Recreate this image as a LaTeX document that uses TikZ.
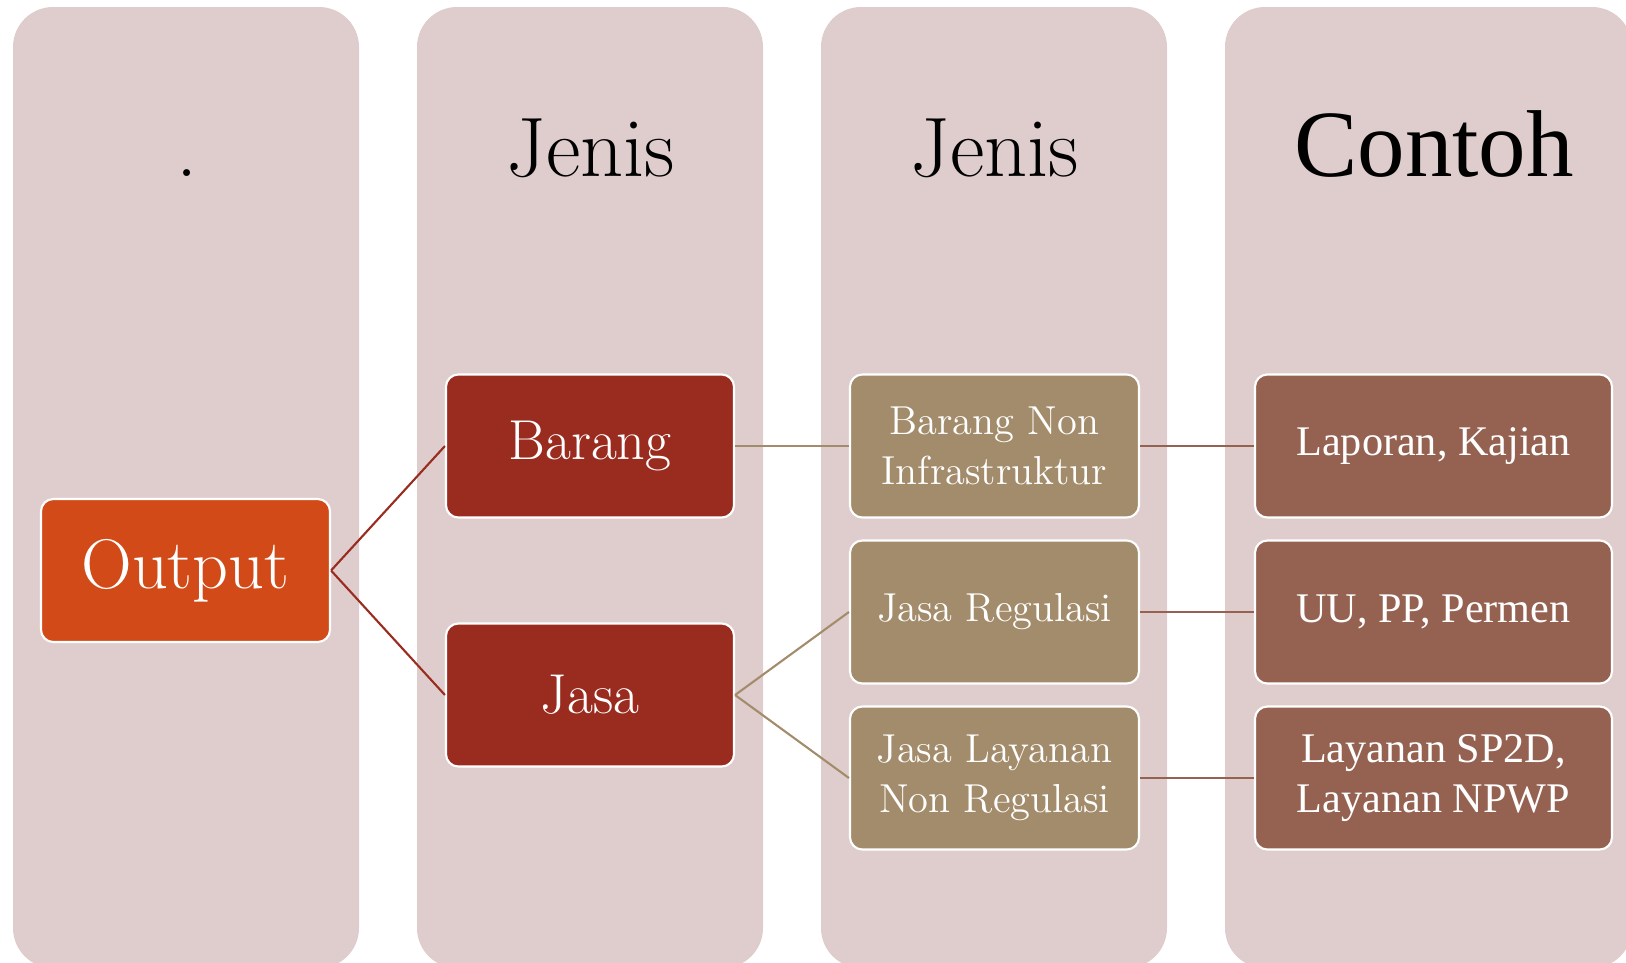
\documentclass[tikz,border=0pt]{standalone}
\usepackage{fontspec}
\newfontfamily\timesfont{Liberation Serif}
\usetikzlibrary{positioning}

\definecolor{fondcol}{RGB}{223,205,205}
\definecolor{orangeout}{RGB}{210,74,24}
\definecolor{rougejenis}{RGB}{153,43,31}
\definecolor{beigejenis}{RGB}{163,140,107}
\definecolor{brunexemple}{RGB}{149,98,82}

\tikzset{
  colonne/.style={fill=fondcol, rounded corners=40*0.01cm},
  boite/.style={draw=white, line width=0.6pt, rounded corners=3.5pt,
    text=white, align=center, inner sep=0pt},
  titre/.style={anchor=base, text=black},
  lien/.style={line width=0.6pt}
}

\begin{document}
\begin{tikzpicture}[x=0.01cm, y=-0.01cm]
  % Cadre de l'image
  \useasboundingbox (0,0) rectangle (1626,963);

  % Colonnes de fond
  \fill[colonne] (13,7) rectangle (359,968);
  \fill[colonne] (417,7) rectangle (763,968);
  \fill[colonne] (821,7) rectangle (1167,968);
  \fill[colonne] (1225,7) rectangle (1632,968);

  % Titres des colonnes
  \node[titre, font=\fontsize{24}{28}\selectfont] at (187,176) {.};
  \node[titre, font=\fontsize{24}{28}\selectfont] at (591,176) {Jenis};
  \node[titre, font=\fontsize{24}{28}\selectfont] at (995,176) {Jenis};
  \node[titre, font=\timesfont\fontsize{27}{30}\selectfont] at (1434,176) {Contoh};

  % Noeud racine
  \node[boite, fill=orangeout, minimum width=289*0.01cm, minimum height=143*0.01cm,
    font=\fontsize{20}{24}\selectfont] (output) at (185.5,570.5) {Output};

  % Deuxieme niveau : Barang et Jasa
  \node[boite, fill=rougejenis, minimum width=288*0.01cm, minimum height=143*0.01cm,
    font=\fontsize{16}{19}\selectfont] (barang) at (590,446) {Barang};
  \node[boite, fill=rougejenis, minimum width=288*0.01cm, minimum height=143*0.01cm,
    font=\fontsize{16}{19}\selectfont] (jasa) at (590,695) {Jasa};

  % Troisieme niveau
  \node[boite, fill=beigejenis, minimum width=289*0.01cm, minimum height=143*0.01cm,
    font=\fontsize{11.5}{14.2}\selectfont] (bni) at (994.5,446) {Barang Non\\Infrastruktur};
  \node[boite, fill=beigejenis, minimum width=289*0.01cm, minimum height=143*0.01cm,
    font=\fontsize{11.5}{14.2}\selectfont] (jreg) at (994.5,612) {Jasa Regulasi};
  \node[boite, fill=beigejenis, minimum width=289*0.01cm, minimum height=143*0.01cm,
    font=\fontsize{11.5}{14.2}\selectfont] (jlay) at (994.5,778) {Jasa Layanan\\Non Regulasi};

  % Exemples
  \node[boite, fill=brunexemple, minimum width=357*0.01cm, minimum height=143*0.01cm,
    font=\timesfont\fontsize{12}{14.2}\selectfont] (lap) at (1433.5,446) {Laporan, Kajian};
  \node[boite, fill=brunexemple, minimum width=357*0.01cm, minimum height=143*0.01cm,
    font=\timesfont\fontsize{12}{14.2}\selectfont] (uu) at (1433.5,612) {UU, PP, Permen};
  \node[boite, fill=brunexemple, minimum width=357*0.01cm, minimum height=143*0.01cm,
    font=\timesfont\fontsize{12}{14.2}\selectfont] (lsp) at (1433.5,778) {Layanan SP2D,\\Layanan NPWP};

  % Liens entre les niveaux
  \draw[lien, rougejenis] (output.east) -- (barang.west);
  \draw[lien, rougejenis] (output.east) -- (jasa.west);
  \draw[lien, beigejenis] (barang.east) -- (bni.west);
  \draw[lien, beigejenis] (jasa.east) -- (jreg.west);
  \draw[lien, beigejenis] (jasa.east) -- (jlay.west);
  \draw[lien, brunexemple] (bni.east) -- (lap.west);
  \draw[lien, brunexemple] (jreg.east) -- (uu.west);
  \draw[lien, brunexemple] (jlay.east) -- (lsp.west);
\end{tikzpicture}
\end{document}
